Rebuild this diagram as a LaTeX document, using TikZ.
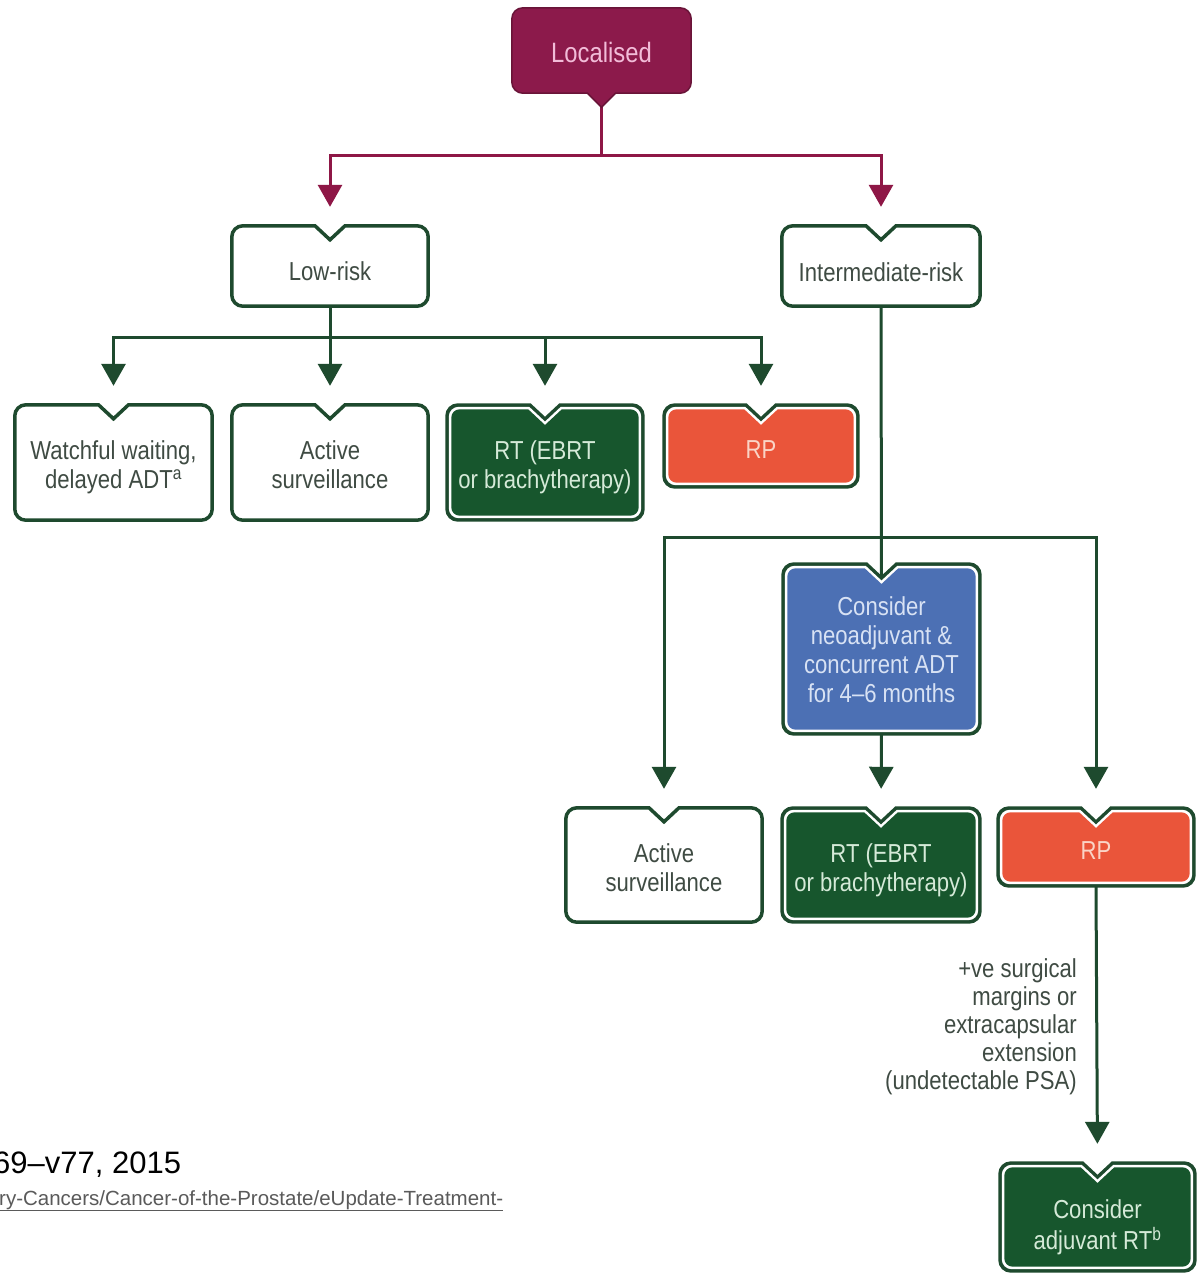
\documentclass[tikz,border=0pt]{standalone}
\usepackage{fontspec}
\newfontfamily\cf{Liberation Sans}[FakeStretch=0.85]
\newfontfamily\nf{Liberation Sans}
\usetikzlibrary{arrows.meta,calc}
\definecolor{maroon}{HTML}{8C1A4B}
\definecolor{maroonline}{HTML}{8E1746}
\definecolor{locText}{HTML}{F2BCD8}
\definecolor{dkg}{HTML}{1E4A2E}
\definecolor{rtg}{HTML}{17562D}
\definecolor{rtText}{HTML}{D5EAD8}
\definecolor{rpf}{HTML}{EA553A}
\definecolor{rpText}{HTML}{FAD4C6}
\definecolor{bluef}{HTML}{4C70B4}
\definecolor{blueText}{HTML}{D8E2F4}
\definecolor{gtext}{HTML}{3F4B43}
\definecolor{refgray}{HTML}{5A5A5A}
\pgfdeclarelayer{bg}
\pgfdeclarelayer{lines}
\pgfdeclarelayer{boxes}
\pgfsetlayers{bg,lines,boxes,main}
% notched rounded box outline around node #1, inset #2, options #3
\newcommand\nbpath[3]{%
  \pgfmathsetmacro\rr{11-0.6*#2}%
  \path[#3] ($(#1.north)+({-15-0.4*#2},-#2)$)
    -- ($(#1.north west)+({#2+\rr},-#2)$)
    arc[start angle=90,end angle=180,radius=\rr pt]
    -- ($(#1.south west)+(#2,{#2+\rr})$)
    arc[start angle=180,end angle=270,radius=\rr pt]
    -- ($(#1.south east)+({-#2-\rr},#2)$)
    arc[start angle=270,end angle=360,radius=\rr pt]
    -- ($(#1.north east)+(-#2,{-#2-\rr})$)
    arc[start angle=0,end angle=90,radius=\rr pt]
    -- ($(#1.north)+({15+0.4*#2},-#2)$)
    -- ($(#1.north)+(0,{-14-1.37*#2})$) -- cycle;}
\newcommand\wbox[1]{\nbpath{#1}{0}{draw=dkg,fill=white,line width=3.5pt}}
\newcommand\cbox[2]{\nbpath{#1}{0}{draw=dkg,fill=dkg,line width=3pt}%
  \nbpath{#1}{2}{fill=white}\nbpath{#1}{4.5}{fill=#2}}
\newcommand\bt[2][6pt]{\raisebox{-#1}[\height][\depth]{\begin{tabular}{@{}c@{}}#2\end{tabular}}}
\tikzset{
  wh/.style 2 args={minimum width=#1pt, minimum height=#2pt},
  bx/.style={inner sep=0pt, font=\cf\fontsize{26}{29}\selectfont},
  mline/.style={draw=maroonline, line width=3pt, -{Triangle[width=24pt,length=22pt]}, shorten >=19pt},
  gline/.style={draw=dkg, line width=3pt},
  garr/.style={gline, -{Triangle[width=24pt,length=22pt]}, shorten >=19pt},
}
\begin{document}
\begin{tikzpicture}[x=1pt,y=1pt]
\begin{pgfonlayer}{bg}
\fill[white] (0,0) rectangle (1201,-1278);
\end{pgfonlayer}
\path[use as bounding box] (0,0) rectangle (1201,-1278);

% nodes
\node[bx, wh={179}{85}, text=locText, font=\cf\fontsize{28}{30}\selectfont] (loc) at (601.5,-50.5) {\bt[6pt]{Localised}};
\node[bx, wh={196}{80}, text=gtext] (low) at (330,-266) {\bt[9pt]{Low-risk}};
\node[bx, wh={198}{80}, text=gtext] (inter) at (881,-266) {\bt[9.5pt]{Intermediate-risk}};
\node[bx, wh={197}{115}, text=gtext] (ww) at (113.5,-462.5) {\bt[6pt]{Watchful waiting,\\delayed ADT\textsuperscript{a}}};
\node[bx, wh={196}{115}, text=gtext] (as1) at (330,-462.5) {\bt[6pt]{Active\\surveillance}};
\node[bx, wh={196}{115}, text=rtText] (rt1) at (545,-462.5) {\bt[6pt]{RT (EBRT\\or brachytherapy)}};
\node[bx, wh={194}{82}, text=rpText] (rp1) at (761,-446) {\bt[7pt]{RP}};
\node[bx, wh={197}{170}, text=blueText] (blue) at (881.5,-649) {\bt[4pt]{Consider\\neoadjuvant \&\\concurrent ADT\\for 4–6 months}};
\node[bx, wh={196}{114}, text=gtext] (as2) at (664,-865) {\bt[6pt]{Active\\surveillance}};
\node[bx, wh={198}{114}, text=rtText] (rt2) at (881,-865) {\bt[6pt]{RT (EBRT\\or brachytherapy)}};
\node[bx, wh={196}{78}, text=rpText] (rp2) at (1096,-847) {\bt[7pt]{RP}};
\node[bx, wh={195}{108}, text=rtText] (adj) at (1097.5,-1217) {\bt[11pt]{Consider\\adjuvant RT\textsuperscript{b}}};
\node[inner sep=0pt, anchor=east, align=right, text=gtext, font=\cf\fontsize{26}{28}\selectfont] (cond) at (1077,-1027) {+ve surgical\\margins or\\extracapsular\\extension\\(undetectable PSA)};
\node[inner sep=0pt, anchor=base west, font=\nf\fontsize{31}{34}\selectfont] (ref1) at (-7,-1173) {69–v77, 2015};
\node[inner sep=0pt, anchor=base west, text=refgray, font=\nf\fontsize{20.5}{25}\selectfont] (ref2) at (-1,-1205) {\underline{ry-Cancers/Cancer-of-the-Prostate/eUpdate-Treatment-}};

% boxes
\begin{pgfonlayer}{boxes}
\path[fill=maroon, draw=maroon!75!black, line width=1.5pt]
  ($(loc.south)+(14,0)$) -- ($(loc.south east)+(-11,0)$)
  arc[start angle=270,end angle=360,radius=11pt] -- ($(loc.north east)+(0,-11)$)
  arc[start angle=0,end angle=90,radius=11pt] -- ($(loc.north west)+(11,0)$)
  arc[start angle=90,end angle=180,radius=11pt] -- ($(loc.south west)+(0,11)$)
  arc[start angle=180,end angle=270,radius=11pt] -- ($(loc.south)+(-14,0)$)
  -- ($(loc.south)+(0,-14)$) -- cycle;
\wbox{low}\wbox{inter}\wbox{ww}\wbox{as1}\wbox{as2}
\cbox{rt1}{rtg}\cbox{rt2}{rtg}\cbox{adj}{rtg}
\cbox{rp1}{rpf}\cbox{rp2}{rpf}
\cbox{blue}{bluef}
\end{pgfonlayer}

% connectors
\begin{pgfonlayer}{lines}
\coordinate (mj) at (601.5,-155);
\draw[draw=maroonline, line width=3pt] (loc.south) -- (mj);
\draw[mline] (mj) -| (low.north);
\draw[mline] (mj) -| (inter.north);
\coordinate (lj) at (330,-337);
\draw[gline] (low.south) -- (lj);
\draw[garr] (lj) -| (ww.north);
\draw[garr] (lj) -- (as1.north);
\draw[garr] (lj) -| (rt1.north);
\draw[garr] (lj) -| (rp1.north);
\coordinate (ij) at (881,-537);
\coordinate (bn) at ($(blue.north)+(0,-14)$);
\draw[gline] (inter.south) -- (bn);
\draw[garr] (ij) -| (as2.north);
\draw[garr] (ij) -| (rp2.north);
\draw[garr] (blue.south) -- (rt2.north);
\draw[garr] (rp2.south) -- (adj.north);
\end{pgfonlayer}
\end{tikzpicture}
\end{document}
